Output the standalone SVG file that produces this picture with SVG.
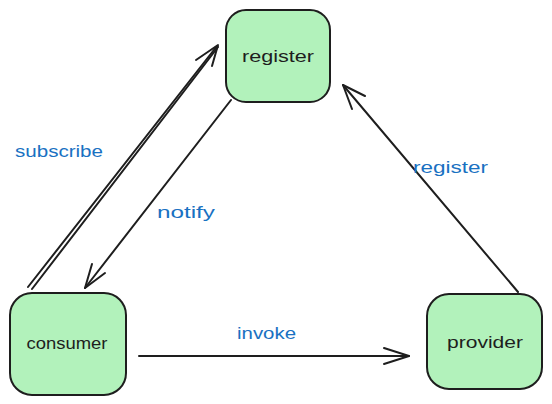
<svg xmlns="http://www.w3.org/2000/svg" width="552" height="404" viewBox="0 0 552 404">
<style>
.box{fill:#b2f2bb;stroke:#1e1e1e;stroke-width:2;}
.nt{font-family:"Liberation Sans",Arial,sans-serif;font-size:17px;fill:#1e1e1e;text-anchor:middle;}
.lb{font-family:"Liberation Sans",Arial,sans-serif;font-size:16px;fill:#1971c2;}
.ln{fill:none;stroke:#1e1e1e;stroke-width:2;stroke-linecap:round;stroke-linejoin:round;}
</style>
<rect width="552" height="404" fill="#ffffff"/>
<g id="register">
<rect class="box" x="226" y="10" width="104" height="92" rx="20"/>
<text class="nt" x="278" y="62" textLength="72" lengthAdjust="spacingAndGlyphs">register</text>
</g>
<g id="consumer">
<rect class="box" x="10" y="293" width="116" height="102" rx="22"/>
<text class="nt" x="67" y="349" textLength="81" lengthAdjust="spacingAndGlyphs">consumer</text>
</g>
<g id="provider">
<rect class="box" x="427" y="294" width="115" height="95" rx="22"/>
<text class="nt" x="485" y="348" textLength="76" lengthAdjust="spacingAndGlyphs">provider</text>
</g>
<g id="connectors">
<g id="subscribe">
<path class="ln" stroke-width="1.5" d="M28 287 L217 46"/>
<path class="ln" stroke-width="1.5" d="M32 289 L218 47"/>
<path class="ln" d="M196 60 L218 45 L212 66"/>
<text class="lb" x="15" y="157" textLength="88" lengthAdjust="spacingAndGlyphs">subscribe</text>
</g>
<g id="notify">
<path class="ln" stroke-width="3" d="M231 100 L85 288"/>
<path class="ln" stroke-width="2.6" d="M92 264 L85 288 L105 273"/>
<text class="lb" x="157" y="218" textLength="58" lengthAdjust="spacingAndGlyphs">notify</text>
</g>
<g id="register-edge">
<path class="ln" d="M518 292 L343 85"/>
<path class="ln" d="M352 109 L343 85 L365 96"/>
<text class="lb" x="413" y="173" textLength="75" lengthAdjust="spacingAndGlyphs">register</text>
</g>
<g id="invoke">
<path class="ln" stroke-width="2.4" d="M139 356 L409 356"/>
<path class="ln" d="M384 348 L409 356 L384 364"/>
<text class="lb" x="237" y="339" textLength="59" lengthAdjust="spacingAndGlyphs">invoke</text>
</g>
</g>
</svg>
